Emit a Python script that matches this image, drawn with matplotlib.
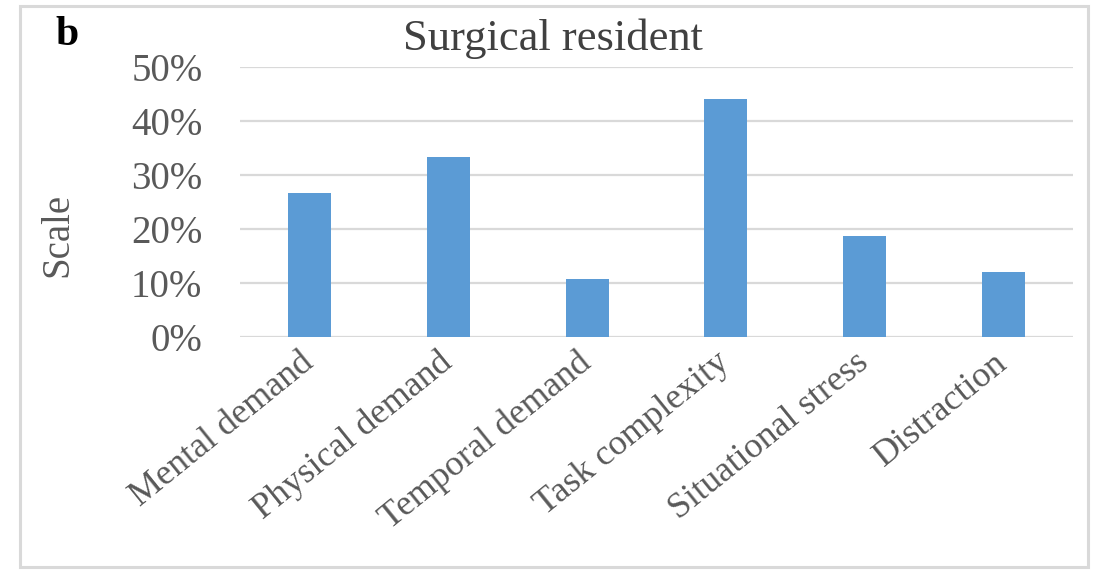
import matplotlib
matplotlib.use("Agg")
import matplotlib.pyplot as plt
from matplotlib.patches import Rectangle
from matplotlib.ticker import PercentFormatter

# Workload factors reported by surgical residents (share of respondents)
categories = ["Mental demand", "Physical demand", "Temporal demand",
              "Task complexity", "Situational stress", "Distraction"]
shares = [0.267, 0.333, 0.107, 0.440, 0.187, 0.120]
y_ticks = [0.0, 0.1, 0.2, 0.3, 0.4, 0.5]

plt.rcParams["font.family"] = ["Liberation Serif", "DejaVu Serif"]

W, H = 1096, 570
fig = plt.figure(figsize=(W / 100, H / 100), dpi=100)
fig.patch.set_facecolor("white")

ax = fig.add_axes([240 / W, 1 - 337 / H, (1073 - 240) / W, (337 - 67) / H])
x = range(len(categories))
ax.bar(x, shares, width=0.31, color="#5B9BD5", zorder=3)

ax.set_xlim(-0.5, len(categories) - 0.5)
ax.set_ylim(0, 0.5)
ax.set_yticks(y_ticks)
ax.yaxis.set_major_formatter(PercentFormatter(1.0, decimals=0))
ax.grid(axis="y", color="#d9d9d9", linewidth=1.6, zorder=0)
for s in ax.spines.values():
    s.set_visible(False)
ax.tick_params(axis="y", length=0, pad=27, labelsize=28, labelcolor="#595959")
ax.tick_params(axis="x", length=0, pad=4)
ax.set_xticks(list(x))
ax.set_xticklabels(categories, rotation=39, ha="right", va="center",
                   rotation_mode="anchor", fontsize=26, color="#595959")
for lbl in ax.get_xticklabels():
    lbl.set_y(-0.06)

# Title, axis name and panel letter
fig.text(553 / W, 1 - 39 / H, "Surgical resident", ha="center", va="center",
         fontsize=32, color="#404040")
fig.text(58 / W, 1 - 235 / H, "Scale", rotation=90, ha="center", va="center",
         fontsize=28, color="#595959")
fig.text(55 / W, 1 - 35 / H, "b", ha="left", va="center",
         fontsize=30, fontweight="bold", color="black")

# Light frame around the chart
fig.add_artist(Rectangle((20 / W, 1 - 567 / H), (1088 - 20) / W, (567 - 6) / H,
                         transform=fig.transFigure, fill=False,
                         edgecolor="#d9d9d9", linewidth=2.2))

fig.savefig("out.png", dpi=100, facecolor="white")
